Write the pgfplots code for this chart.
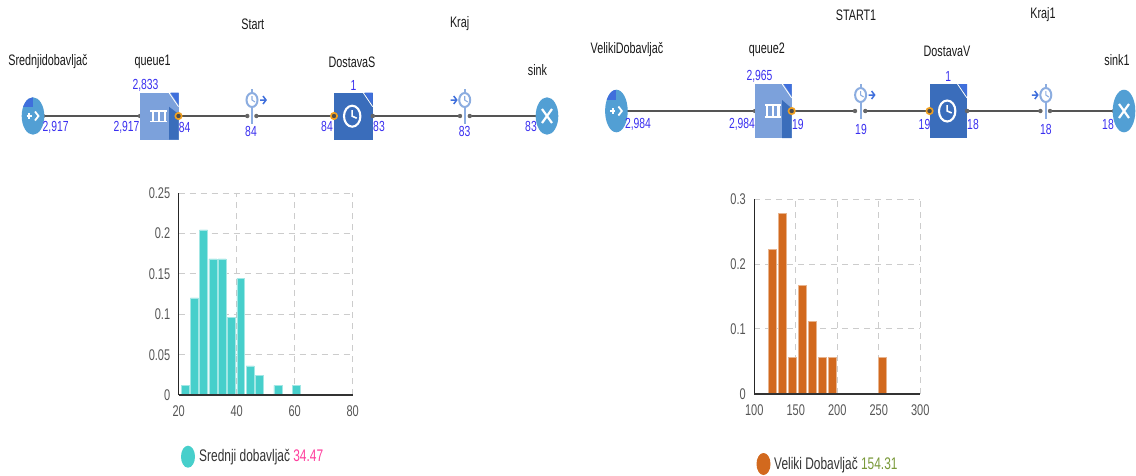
\documentclass[border=0pt]{standalone}
\usepackage{pgfplots}
\usepackage{fontspec}
\pgfplotsset{compat=1.18}
\setmainfont[FakeStretch=0.71]{Liberation Sans}
\definecolor{cblu}{HTML}{3A2FF0}
\definecolor{cround}{HTML}{529FD4}
\definecolor{qlight}{HTML}{7CA1DB}
\definecolor{qdark}{HTML}{3A6DBB}
\definecolor{ctri}{HTML}{3F6FDC}
\definecolor{cmrk}{HTML}{8CADE0}
\definecolor{clin}{HTML}{555555}
\definecolor{cport}{HTML}{F0A020}
\definecolor{cteal}{HTML}{47CFCB}
\definecolor{corg}{HTML}{D2691E}
\definecolor{ctk}{HTML}{555555}
\newcommand{\lab}[3]{\node[font=\fontsize{15.2}{15}\selectfont,text=black!90] at (#1,#2) {#3};}
\newcommand{\numb}[3]{\node[font=\fontsize{14.6}{15}\selectfont,text=cblu] at (#1,#2) {#3};}
\newcommand{\dotp}[2]{\fill[gray!80!black] (#1,#2) circle (2.2);}
\newcommand{\conn}[3]{\draw[clin,line width=1.8pt] (#1,#3) -- (#2,#3); \dotp{#1}{#3}\dotp{#2}{#3}}
% x y ry
\newcommand{\src}[3]{\begin{scope}[shift={(#1,#2)}]
\fill[cround] (0,0) ellipse (11.3 and #3);
\begin{scope}
\clip (0,0) ellipse (11.3 and #3);
\fill[ctri] (-12,-#3) rectangle (-0.5,-#3+10);
\end{scope}
\draw[white,line width=1.8pt] (2,-4.5) -- (5.5,0) -- (2,4.5);
\draw[white,line width=1.8pt] (-6.5,0) -- (-1,0) (-3.7,-3) -- (-3.7,3);
\end{scope}}
\newcommand{\snk}[3]{\begin{scope}[shift={(#1,#2)}]
\fill[cround] (0,0) ellipse (11.3 and #3);
\draw[white,line width=2.2pt] (-5,-7) -- (5,7) (-5,7) -- (5,-7);
\end{scope}}
% x0 width ytop ybot
\newcommand{\queuebox}[4]{\begin{scope}[shift={(#1,#3)}]
\pgfmathsetmacro{\W}{#2}\pgfmathsetmacro{\H}{#4-#3}
\fill[qlight] (0,0) rectangle (\W,\H);
\fill[qdark] (\W-9.5,{0.3*\H}) -- (\W,{0.45*\H}) -- (\W,\H) -- (\W-9.5,\H) -- cycle;
\fill[ctri] (\W-8,0) -- (\W,0) -- (\W,12) -- cycle;
\draw[white,line width=.8pt] (\W-9.5,0) -- (\W,14);
\draw[white,line width=1.7pt] (\W*0.27,\H*0.39) -- (\W*0.7,\H*0.39) (\W*0.27,\H*0.61) -- (\W*0.7,\H*0.61);
\draw[white,line width=2.2pt] (\W*0.33,\H*0.39) -- (\W*0.33,\H*0.61) (\W*0.485,\H*0.39) -- (\W*0.485,\H*0.61) (\W*0.64,\H*0.39) -- (\W*0.64,\H*0.61);
\end{scope}}
\newcommand{\delaybox}[4]{\begin{scope}[shift={(#1,#3)}]
\pgfmathsetmacro{\W}{#2}\pgfmathsetmacro{\H}{#4-#3}
\fill[qdark] (0,0) rectangle (\W,\H);
\fill[ctri] (\W-8,0) -- (\W,0) -- (\W,12) -- cycle;
\draw[white,line width=.8pt] (\W-9.5,0) -- (\W,14);
\draw[white,line width=2.1pt] (\W*0.47,\H*0.5) ellipse (8.2 and 10.5);
\draw[white,line width=1.6pt] (\W*0.47,\H*0.5-6) -- (\W*0.47,\H*0.5) -- (\W*0.47+4.5,\H*0.5+2);
\end{scope}}
\newcommand{\pnt}[2]{\draw[cport,line width=1.6pt,fill=gray!60!black] (#1,#2) circle (3.2);}
% x y arrowstart
\newcommand{\watch}[3]{\begin{scope}[shift={(#1,#2)}]
\draw[cmrk,line width=1.8pt] (0,-27) -- (0,8);
\fill[white] (0,-16) ellipse (5.5 and 7);
\draw[cmrk,line width=2pt] (0,-16) ellipse (5.5 and 7);
\draw[cmrk,line width=1.1pt] (0,-20) -- (0,-16) -- (3,-14);
\draw[ctri,line width=1.5pt] ({#3},-16) -- ({#3+6},-16) ({#3+3},-20) -- ({#3+6},-16) -- ({#3+3},-12);
\end{scope}}
\pgfplotsset{
 hist/.style={
  scale only axis, anchor=south west,
  axis x line=bottom, axis y line=left, axis line style={-},
  x axis line style={draw=black!80,line width=2pt},
  y axis line style={draw=black!85,line width=1.1pt},
  grid=major, grid style={draw=black!20,dash pattern=on 6pt off 5pt,line width=1pt},
  major tick length=0pt, tick style={draw=none},
  ymin=0,
  tick label style={font=\fontsize{15.5}{16}\selectfont,text=ctk,/pgf/number format/assume math mode=true},
  yticklabel style={/pgf/number format/fixed,/pgf/number format/precision=2},
  xticklabel style={/pgf/number format/fixed},
  xticklabel shift=7pt, yticklabel shift=5pt,
}}
\begin{document}
\begin{tikzpicture}[x=1pt,y=-1pt]
\path[use as bounding box,fill=white] (0,0) rectangle (1136,475);
% left process
\conn{43}{140}{116}\conn{178.5}{247.3}{116}\conn{256.4}{334}{116}\conn{372.7}{460}{116}\conn{469.8}{537.5}{116}
\src{33}{116}{18.7}
\queuebox{140}{38.5}{92.7}{139.7}\pnt{178.5}{116}
\watch{252}{116}{8}
\delaybox{334}{38.7}{92.7}{139.7}\pnt{334}{116}
\dotp{372.7}{116}
\watch{464.7}{116}{-14}
\snk{547}{116}{18.7}
\lab{48}{62}{Srednjidobavljač}\lab{152.7}{62}{queue1}\lab{252.7}{24}{Start}\lab{459.6}{24}{Kraj}\lab{352}{62}{DostavaS}\lab{537.5}{70}{sink}
\numb{145.5}{85}{2,833}\numb{55.6}{127}{2,917}\numb{126.5}{127}{2,917}\numb{184.7}{127}{84}\numb{251}{131}{84}\numb{327}{126}{84}\numb{353.5}{85}{1}\numb{379}{126}{83}\numb{464.7}{131}{83}\numb{531}{126}{83}
% right process
\conn{625}{755}{111}\conn{791.7}{855}{111}\conn{865.3}{929.6}{111}\conn{967}{1040.4}{111}\conn{1050}{1114}{111}
\src{616.4}{111}{21.3}
\queuebox{754.8}{36.9}{84}{138}\pnt{791.7}{111}
\watch{860.6}{111}{8}
\delaybox{929.6}{37.4}{84}{138}\pnt{929.6}{111}
\dotp{967}{111}
\watch{1045.8}{111}{-14}
\snk{1124}{111}{21.3}
\lab{627}{50}{VelikiDobavljač}\lab{766.8}{50}{queue2}\lab{856}{15}{START1}\lab{1043}{15}{Kraj1}\lab{947}{51}{DostavaV}\lab{1117}{60}{sink1}
\numb{759.5}{76}{2,965}\numb{638}{124}{2,984}\numb{742}{124}{2,984}\numb{797.8}{124}{19}\numb{861}{129}{19}\numb{924.5}{124}{19}\numb{948.3}{76}{1}\numb{973}{124}{18}\numb{1045.8}{129}{18}\numb{1108}{124}{18}
% histograms
\begin{axis}[hist,at={(178.7pt,-395pt)},width=174pt,height=201.7pt,
  xmin=20,xmax=80,ymax=0.25,xtick={20,40,60,80},ytick={0,0.05,0.1,0.15,0.2,0.25}]
\addplot[ybar,bar width=2.75,fill=cteal,draw=cteal!50,line width=.5pt] coordinates {
(22.2,0.012)(25.4,0.1205)(28.6,0.2048)(31.8,0.1687)(35,0.1687)(38.2,0.0964)(41.4,0.1446)(44.6,0.0361)(47.8,0.0241)(54.2,0.012)(60.6,0.012)};
\draw[black!80,line width=2pt] (axis cs:20,0) -- (axis cs:80,0);
\end{axis}
\begin{axis}[hist,at={(754.3pt,-393.7pt)},width=166pt,height=194.4pt,
  xmin=100,xmax=300,ymax=0.3,xtick={100,150,200,250,300},ytick={0,0.1,0.2,0.3}]
\addplot[ybar,bar width=9.6,fill=corg,draw=corg!50,line width=.5pt] coordinates {
(122,0.2222)(134,0.2778)(146,0.0556)(158,0.1667)(170,0.1111)(182,0.0556)(194,0.0556)(254,0.0556)};
\draw[black!80,line width=2pt] (axis cs:100,0) -- (axis cs:300,0);
\end{axis}
% legends
\fill[cteal] (188,456.7) ellipse (7 and 11);
\node[anchor=west,inner sep=0pt,font=\fontsize{16.8}{17}\selectfont] at (199,457) {\textcolor{black!80}{Srednji dobavljač} \textcolor[HTML]{FF3E9E}{34.47}};
\fill[corg] (763.5,464) ellipse (7 and 11);
\node[anchor=west,inner sep=0pt,font=\fontsize{16.8}{17}\selectfont] at (774,465) {\textcolor{black!80}{Veliki Dobavljač} \textcolor[HTML]{7A9A3A}{154.31}};
\end{tikzpicture}
\end{document}
